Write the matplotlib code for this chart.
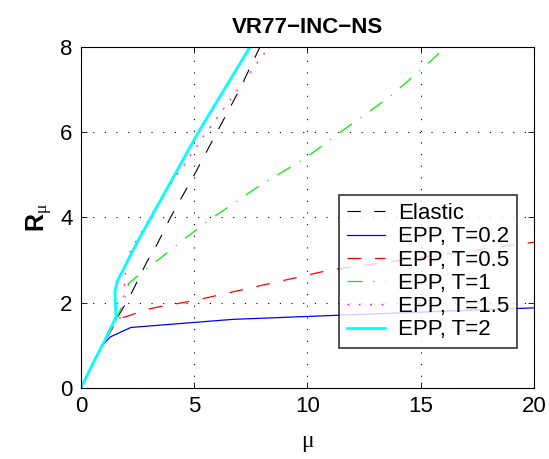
import matplotlib
matplotlib.use("Agg")
import matplotlib.pyplot as plt

plt.rcParams['font.family'] = ['Liberation Sans', 'DejaVu Sans']
plt.rcParams['mathtext.fontset'] = 'custom'
plt.rcParams['mathtext.rm'] = 'Liberation Sans'
plt.rcParams['mathtext.bf'] = 'Liberation Sans:bold'
plt.rcParams['mathtext.it'] = 'Liberation Serif'

elastic_mu = [0, 0.5, 1.0, 1.6, 2.0, 2.3, 2.9, 3.35, 3.95, 5.0, 6.0, 7.0, 7.9]
elastic_R = [0, 0.55, 1.05, 1.65, 2.0, 2.3, 2.95, 3.36, 4.0, 5.0, 6.0, 7.0, 8.0]

t02_mu = [0, 0.5, 0.9, 1.3, 2.2, 6.7, 12.0, 20.0]
t02_R = [0, 0.55, 0.98, 1.2, 1.42, 1.61, 1.72, 1.88]

t05_mu = [0, 0.5, 1.0, 1.5, 1.8, 2.2, 2.8, 3.5, 5.0, 11.0, 20.0]
t05_R = [0, 0.55, 1.05, 1.5, 1.64, 1.71, 1.83, 1.91, 2.05, 2.77, 3.42]

t1_mu = [0, 0.5, 1.0, 1.5, 1.94, 2.1, 2.5, 3.3, 4.5, 5.55, 7.95, 9.9, 11.7, 13.6, 15.3, 16.1]
t1_R = [0, 0.55, 1.05, 1.55, 2.07, 2.45, 2.63, 2.96, 3.47, 3.9, 4.77, 5.39, 6.1, 6.82, 7.6, 8.0]

t15_mu = [0, 0.5, 1.0, 1.6, 1.8, 1.9, 1.92, 2.05, 2.3, 3.63, 5.43, 8.3]
t15_R = [0, 0.55, 1.05, 1.6, 1.67, 2.2, 2.5, 3.07, 3.32, 4.53, 5.92, 8.0]

t2_mu = [0, 0.5, 1.0, 1.55, 1.5, 1.6, 2.53, 3.09, 5.18, 7.46]
t2_R = [0, 0.55, 1.06, 1.67, 2.26, 2.5, 3.47, 4.0, 6.0, 8.0]

fig = plt.figure(figsize=(5.49, 4.59), dpi=100)
ax = fig.add_axes([0.1475, 0.1547, 0.8252, 0.7429])

ax.plot(elastic_mu, elastic_R, color='black', lw=0.8, dashes=(12, 12), label='Elastic')
ax.plot(t02_mu, t02_R, color='#0000ff', lw=0.9, label='EPP, T=0.2')
ax.plot(t05_mu, t05_R, color='#ff0000', lw=0.9, dashes=(11, 11), label='EPP, T=0.5')
ax.plot(t1_mu, t1_R, color='#00ee00', lw=0.9, dashes=(12, 8.5, 1, 8.5), label='EPP, T=1')
ax.plot(t15_mu, t15_R, color='#ff00ff', lw=1.0, dashes=(1.2, 7), label='EPP, T=1.5')
ax.plot(t2_mu, t2_R, color='#00ffff', lw=2.0, label='EPP, T=2')

ax.set_xlim(0, 20)
ax.set_ylim(0, 8)
ax.set_xticks([0, 5, 10, 15, 20])
ax.set_yticks([0, 2, 4, 6, 8])
ax.grid(True, color='black', linestyle=(0, (1, 9.5)), linewidth=0.8)
ax.tick_params(direction='in', top=True, right=True, labelsize=16, length=4, width=0.6, pad=6)
for s in ax.spines.values():
    s.set_linewidth(0.8)

ax.set_title('VR77\u2212INC\u2212NS', fontsize=16, fontweight='bold', pad=10)
ax.set_xlabel('\u03bc', fontsize=17, family='Liberation Serif', labelpad=10)
ax.set_ylabel(r'$\mathbf{R}_{\mu}$', fontsize=18, labelpad=4)

leg = ax.legend(loc='lower right', bbox_to_anchor=(0.9625, 0.117), fontsize=16,
                frameon=True, fancybox=False, edgecolor='black', handlelength=1.7,
                borderaxespad=0, labelspacing=0.1, handletextpad=0.6, borderpad=0.35)
leg.get_frame().set_linewidth(1.2)

fig.savefig('out.png', dpi=100)
